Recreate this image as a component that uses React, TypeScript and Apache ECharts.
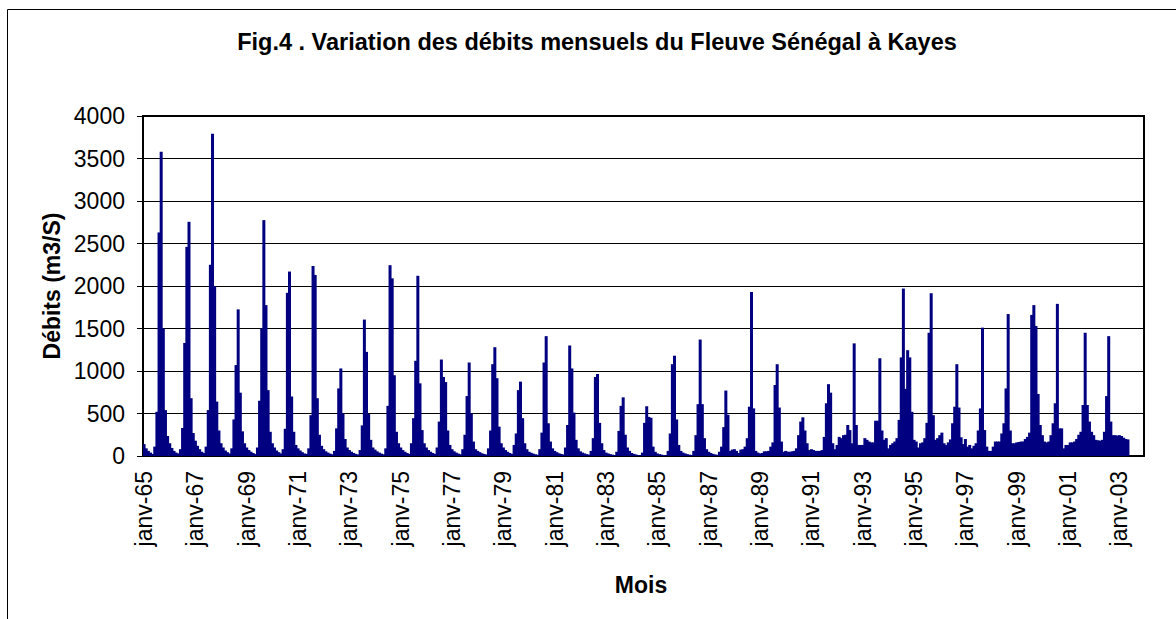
import React, { useEffect, useRef } from "react";
import * as echarts from "echarts";

// Monthly discharge (m3/s), Jan..Dec
const y1965 = [140, 90, 60, 40, 25, 110, 520, 2630, 3580, 1500, 540, 235];
const y1966 = [150, 95, 60, 40, 30, 80, 330, 1330, 2460, 2755, 680, 270];
const y1967 = [180, 120, 80, 50, 35, 110, 540, 2250, 3790, 2000, 640, 300];
const y1968 = [150, 100, 65, 45, 30, 90, 430, 1070, 1725, 745, 290, 150];
const y1969 = [100, 70, 50, 35, 25, 100, 650, 1500, 2775, 1775, 775, 285];
const y1970 = [150, 100, 65, 45, 30, 80, 320, 1920, 2170, 700, 285, 130];
const y1971 = [90, 65, 45, 30, 25, 90, 480, 2235, 2130, 680, 250, 120];
const y1972 = [80, 55, 40, 28, 20, 60, 325, 795, 1030, 500, 200, 100];
const y1973 = [70, 50, 35, 25, 18, 70, 360, 1605, 1225, 495, 190, 100];
const y1974 = [75, 55, 40, 28, 20, 90, 590, 2245, 2090, 950, 285, 150];
const y1975 = [100, 70, 50, 35, 25, 150, 445, 1120, 2120, 855, 305, 150];
const y1976 = [100, 70, 50, 35, 25, 100, 405, 1135, 930, 870, 300, 130];
const y1977 = [80, 55, 40, 28, 20, 80, 250, 705, 1100, 500, 170, 80];
const y1978 = [60, 45, 32, 24, 18, 90, 300, 1080, 1280, 915, 345, 150];
const y1979 = [100, 70, 50, 35, 25, 130, 265, 775, 875, 445, 150, 80];
const y1980 = [50, 38, 28, 20, 15, 80, 275, 1100, 1410, 385, 170, 90];
const y1981 = [60, 45, 32, 24, 18, 100, 365, 1300, 1030, 510, 190, 90];
const y1982 = [55, 40, 30, 22, 16, 60, 210, 930, 965, 390, 150, 70];
const y1983 = [40, 30, 22, 16, 12, 50, 295, 590, 690, 250, 100, 60];
const y1984 = [35, 25, 18, 12, 10, 40, 390, 585, 460, 450, 110, 50];
const y1985 = [30, 22, 16, 12, 10, 60, 265, 1080, 1180, 430, 130, 60];
const y1986 = [40, 30, 22, 16, 12, 60, 245, 610, 1370, 610, 210, 80];
const y1987 = [50, 35, 25, 18, 14, 50, 110, 340, 770, 485, 60, 75];
const y1988 = [80, 60, 35, 75, 80, 110, 210, 580, 1930, 560, 60, 40];
const y1989 = [30, 35, 55, 55, 60, 110, 160, 835, 1080, 570, 170, 50];
const y1990 = [60, 50, 50, 55, 60, 90, 245, 405, 455, 300, 150, 70];
const y1991 = [80, 70, 60, 60, 60, 70, 225, 620, 845, 745, 150, 80];
const y1992 = [130, 225, 210, 245, 250, 365, 305, 150, 1325, 365, 130, 130];
const y1993 = [130, 210, 190, 170, 160, 160, 415, 415, 1150, 300, 190, 210];
const y1994 = [90, 130, 150, 170, 210, 425, 1160, 1970, 790, 1245, 1160, 520];
const y1995 = [190, 170, 100, 150, 160, 210, 390, 1450, 1915, 480, 190, 210];
const y1996 = [245, 275, 150, 130, 160, 195, 385, 580, 1080, 570, 220, 140];
const y1997 = [200, 110, 130, 90, 120, 150, 300, 560, 1510, 305, 110, 60];
const y1998 = [60, 110, 170, 170, 170, 265, 385, 795, 1670, 300, 150, 150];
const y1999 = [160, 165, 170, 170, 200, 225, 275, 1660, 1775, 1530, 730, 365];
const y2000 = [245, 170, 160, 170, 245, 385, 620, 1790, 325, 325, 90, 130];
const y2001 = [130, 160, 160, 170, 200, 250, 285, 600, 1450, 600, 405, 285];
const y2002 = [245, 190, 185, 180, 190, 285, 705, 1410, 405, 245, 245, 240];
const y2003 = [245, 235, 215, 200, 195];

const yearData = [
  y1965, y1966, y1967, y1968, y1969, y1970, y1971, y1972, y1973, y1974,
  y1975, y1976, y1977, y1978, y1979, y1980, y1981, y1982, y1983, y1984,
  y1985, y1986, y1987, y1988, y1989, y1990, y1991, y1992, y1993, y1994,
  y1995, y1996, y1997, y1998, y1999, y2000, y2001, y2002, y2003,
];
const firstYear = 1965;
const monthNames = ["janv", "févr", "mars", "avr", "mai", "juin", "juil", "août", "sept", "oct", "nov", "déc"];

const categories: string[] = [];
const values: (number | null)[] = [];
yearData.forEach((arr, yi) => {
  const yy = String((firstYear + yi) % 100).padStart(2, "0");
  for (let m = 0; m < 12; m++) {
    categories.push(`${monthNames[m]}-${yy}`);
    values.push(m < arr.length ? arr[m] : null);
  }
});

const FONT = '"Liberation Sans", Arial, Helvetica, sans-serif';

export default function App() {
  const ref = useRef<HTMLDivElement>(null);
  useEffect(() => {
    if (!ref.current) return;
    const chart = echarts.init(ref.current, undefined, { renderer: "svg" });
    chart.setOption({
      animation: false,
      backgroundColor: "#ffffff",
      textStyle: { fontFamily: FONT },
      grid: {
        left: 143,
        right: 32,
        top: 116,
        bottom: 163,
        show: true,
        borderColor: "#000",
        borderWidth: 2,
        backgroundColor: "#fff",
      },
      xAxis: {
        type: "category",
        data: categories,
        boundaryGap: true,
        axisLine: { lineStyle: { color: "#000", width: 2 } },
        axisTick: { interval: 23, length: 6, lineStyle: { color: "#000", width: 1 } },
        axisLabel: {
          interval: 23,
          rotate: 90,
          margin: 15,
          fontSize: 23,
          color: "#000",
          fontFamily: FONT,
        },
        splitLine: { show: false },
      },
      yAxis: {
        type: "value",
        min: 0,
        max: 4000,
        interval: 500,
        axisLine: { show: true, lineStyle: { color: "#000", width: 2 } },
        axisTick: { show: true, length: 6, lineStyle: { color: "#000", width: 1 } },
        axisLabel: {
          fontSize: 23,
          color: "#000",
          margin: 18,
          fontFamily: FONT,
          formatter: (v: number) => String(v),
        },
        splitLine: { lineStyle: { color: "#000", width: 1 } },
      },
      series: [
        {
          type: "bar",
          data: values,
          barWidth: 3,
          barGap: "-100%",
          itemStyle: { color: "#000080" },
        },
      ],
      graphic: [
        {
          type: "rect",
          silent: true,
          z: 100,
          shape: { x: 7.5, y: 9.5, width: 1200, height: 700 },
          style: { fill: "none", stroke: "#000", lineWidth: 1 },
        },
        {
          type: "text",
          x: 597,
          y: 42,
          style: {
            text: "Fig.4 . Variation des débits mensuels du Fleuve Sénégal à Kayes",
            font: `bold 23.5px ${FONT}`,
            fill: "#000",
            textAlign: "center",
            textVerticalAlign: "middle",
          },
        },
        {
          type: "text",
          x: 52,
          y: 286,
          rotation: Math.PI / 2,
          style: {
            text: "Débits (m3/S)",
            font: `bold 23px ${FONT}`,
            fill: "#000",
            textAlign: "center",
            textVerticalAlign: "middle",
          },
        },
        {
          type: "text",
          x: 641,
          y: 585,
          style: {
            text: "Mois",
            font: `bold 23px ${FONT}`,
            fill: "#000",
            textAlign: "center",
            textVerticalAlign: "middle",
          },
        },
      ],
    });
    return () => chart.dispose();
  }, []);
  return (
    <div
      ref={ref}
      style={{ position: "fixed", left: 0, top: 0, width: 1176, height: 619, background: "#fff" }}
    />
  );
}
